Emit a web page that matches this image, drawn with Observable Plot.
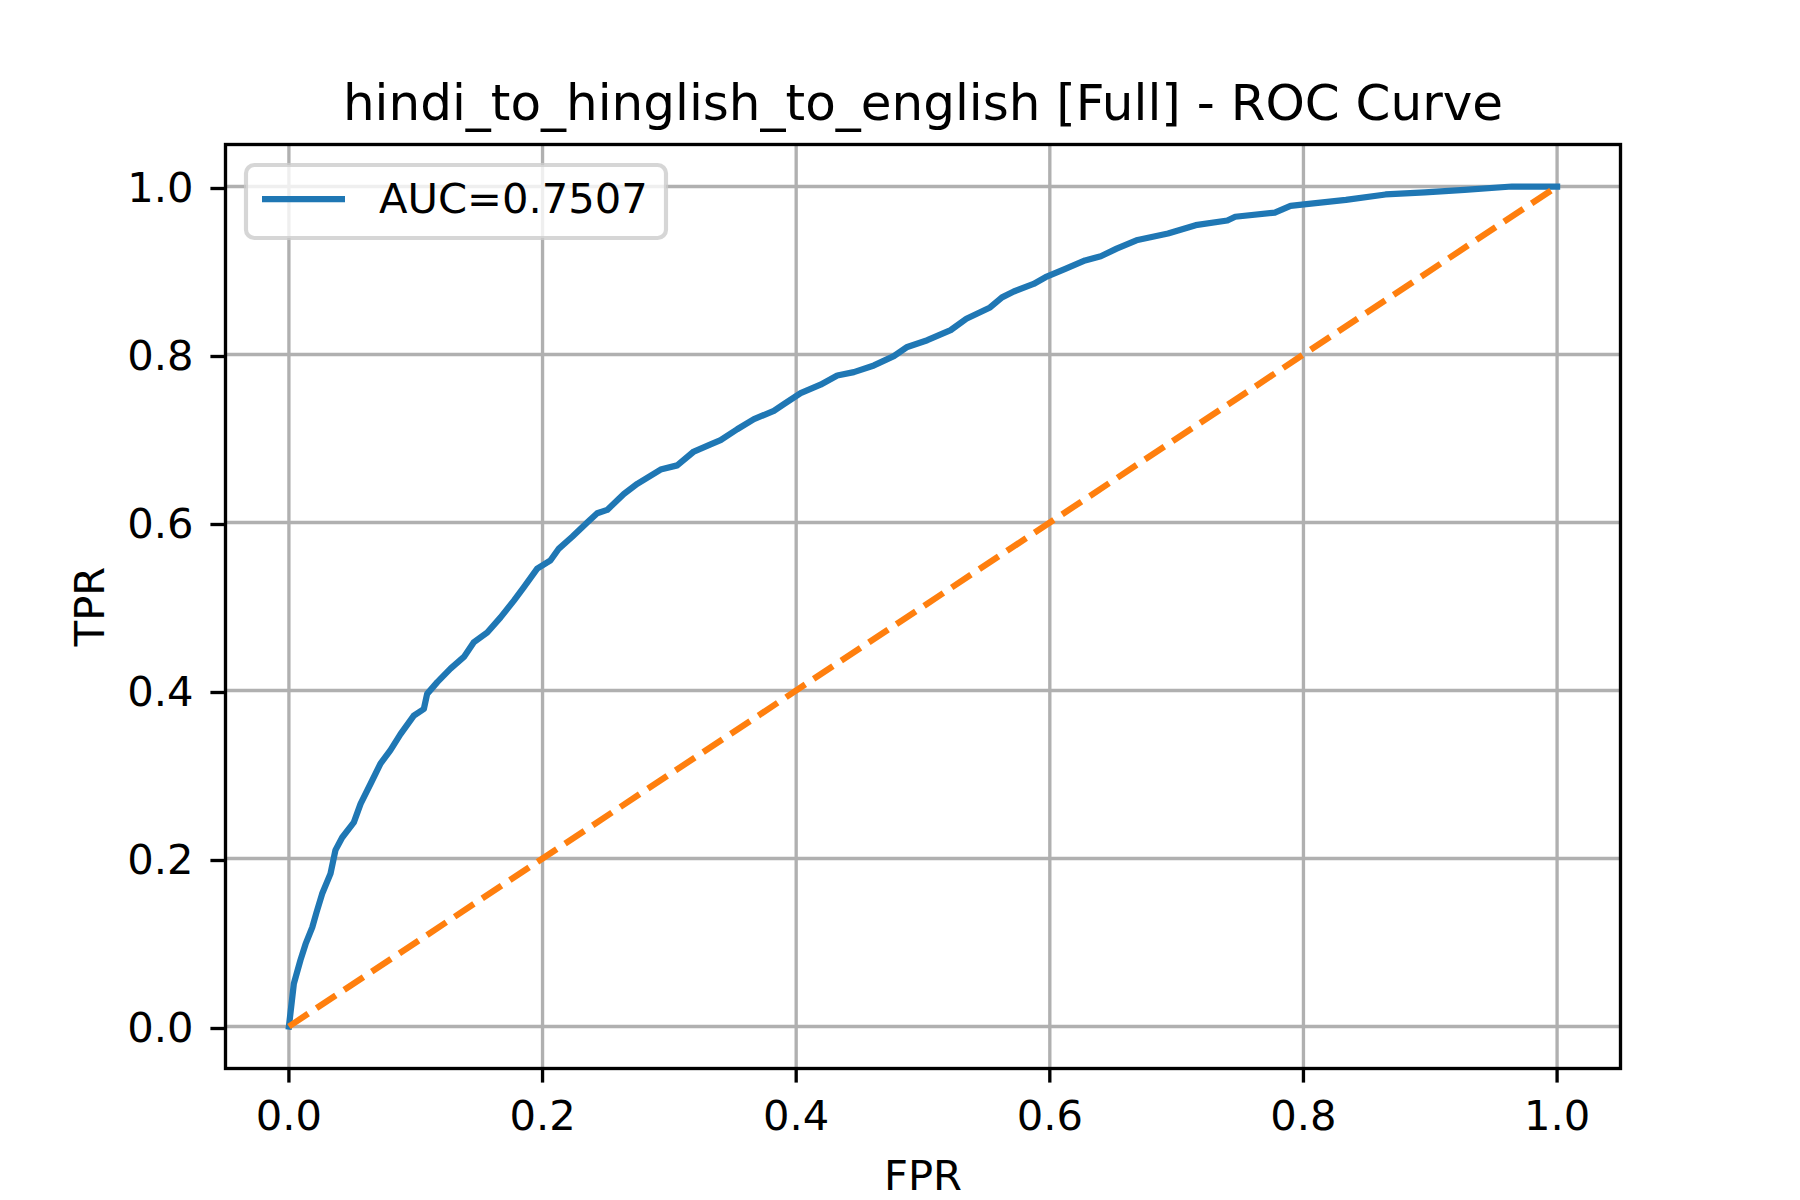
<!DOCTYPE html>
<html>
<head>
<meta charset="utf-8">
<script src="https://cdn.jsdelivr.net/npm/d3@7"></script>
<script src="https://cdn.jsdelivr.net/npm/@observablehq/plot@0.6"></script>
<style>
  html, body { margin: 0; padding: 0; background: #ffffff; }
  #chart svg { display: block; }
</style>
</head>
<body>
<div id="chart"></div>
<script>
// ---- data ----
const fpr = [0, 0.0039, 0.0091, 0.0131, 0.0184, 0.0218, 0.0262, 0.0328, 0.0367, 0.042, 0.0512, 0.0565, 0.0644, 0.0722, 0.0801, 0.088, 0.0985, 0.1064, 0.109, 0.117, 0.1274, 0.138, 0.1458, 0.1564, 0.1669, 0.1774, 0.1853, 0.1958, 0.2063, 0.2129, 0.2234, 0.2352, 0.2431, 0.251, 0.2641, 0.2747, 0.2931, 0.3062, 0.3193, 0.3325, 0.3404, 0.3535, 0.3667, 0.3824, 0.3903, 0.4035, 0.4192, 0.4324, 0.4455, 0.4613, 0.477, 0.4876, 0.5034, 0.5218, 0.5342, 0.5529, 0.5623, 0.5716, 0.5872, 0.5966, 0.6122, 0.6278, 0.6402, 0.6527, 0.6683, 0.6932, 0.715, 0.74, 0.7462, 0.7774, 0.7898, 0.8023, 0.8335, 0.8647, 0.8958, 0.927, 0.9644, 1.0];
const tpr = [0, 0.051, 0.079, 0.098, 0.118, 0.136, 0.158, 0.182, 0.210, 0.225, 0.243, 0.265, 0.289, 0.313, 0.329, 0.348, 0.370, 0.378, 0.396, 0.410, 0.426, 0.440, 0.4575, 0.469, 0.487, 0.507, 0.523, 0.545, 0.555, 0.569, 0.583, 0.600, 0.611, 0.615, 0.634, 0.646, 0.663, 0.668, 0.6845, 0.693, 0.698, 0.711, 0.723, 0.733, 0.741, 0.754, 0.764, 0.775, 0.779, 0.787, 0.798, 0.809, 0.817, 0.829, 0.8425, 0.856, 0.868, 0.875, 0.884, 0.892, 0.902, 0.912, 0.917, 0.926, 0.936, 0.944, 0.954, 0.9595, 0.964, 0.969, 0.977, 0.979, 0.984, 0.9905, 0.993, 0.996, 1.0, 1.0];
const chanceFpr = [0, 1];
const chanceTpr = [0, 1];
const xTicks = [0, 0.2, 0.4, 0.6, 0.8, 1.0];
const yTicks = [0, 0.2, 0.4, 0.6, 0.8, 1.0];
const xTickLabels = ["0.0", "0.2", "0.4", "0.6", "0.8", "1.0"];
const yTickLabels = ["0.0", "0.2", "0.4", "0.6", "0.8", "1.0"];
const titleText = "hindi_to_hinglish_to_english [Full] - ROC Curve";
const xLabel = "FPR";
const yLabel = "TPR";
const legendLabel = "AUC=0.7507";

// ---- build tables ----
const roc = fpr.map((f, i) => ({fpr: f, tpr: tpr[i]}));
const chance = chanceFpr.map((f, i) => ({fpr: f, tpr: chanceTpr[i]}));

const S = 300 / 72; // px per point at 300 dpi
const W = 1800, H = 1200;
const mL = 225, mR = 180, mT = 144, mB = 132;
const blue = "#1f77b4", orange = "#ff7f0e";
const font = "DejaVu Sans, Liberation Sans, sans-serif";

const chart = Plot.plot({
  width: W,
  height: H,
  marginLeft: mL,
  marginRight: mR,
  marginTop: mT,
  marginBottom: mB,
  style: {fontFamily: font, background: "#ffffff", color: "#000000", overflow: "visible"},
  x: {domain: [-0.05, 1.05]},
  y: {domain: [-0.05, 1.05]},
  marks: [
    Plot.gridX(xTicks, {stroke: "#b0b0b0", strokeOpacity: 1, strokeWidth: 0.8 * S}),
    Plot.gridY(yTicks, {stroke: "#b0b0b0", strokeOpacity: 1, strokeWidth: 0.8 * S}),
    Plot.line(roc, {x: "fpr", y: "tpr", stroke: blue, strokeWidth: 1.5 * S, strokeLinejoin: "round", strokeLinecap: "square"}),
    Plot.line(chance, {x: "fpr", y: "tpr", stroke: orange, strokeWidth: 1.5 * S,
      strokeDasharray: `${3.7 * 1.5 * S},${1.6 * 1.5 * S}`, strokeLinecap: "butt"}),
    Plot.frame({stroke: "#000000", strokeWidth: 0.8 * S}),
    Plot.axisX(xTicks, {
      tickSize: 3.5 * S, tickPadding: 17.5, fontSize: 10 * S, strokeWidth: 0.8 * S,
      tickFormat: d => xTickLabels[xTicks.indexOf(d)], label: null
    }),
    Plot.axisY(yTicks, {
      tickSize: 3.5 * S, tickPadding: 17.5, fontSize: 10 * S, strokeWidth: 0.8 * S,
      tickFormat: d => yTickLabels[yTicks.indexOf(d)], label: null, dy: 2
    }),
    Plot.text([titleText], {text: d => d, frameAnchor: "top", dy: -25, lineAnchor: "bottom", textAnchor: "middle", fontSize: 12 * S, fill: "#000000"}),
    Plot.text([xLabel], {text: d => d, frameAnchor: "bottom", dy: 121, lineAnchor: "bottom", textAnchor: "middle", fontSize: 10 * S, fill: "#000000"}),
    Plot.text([yLabel], {text: d => d, frameAnchor: "left", dx: -(mL - 103), rotate: -90, lineAnchor: "bottom", textAnchor: "middle", fontSize: 10 * S, fill: "#000000"})
  ]
});

document.getElementById("chart").appendChild(chart);

// ---- legend (matplotlib-style, upper left inside the axes) ----
const svg = d3.select(chart);
const lx = mL + 21, ly = mT + 21, lw = 420, lh = 73;
const g = svg.append("g").attr("class", "legend");
g.append("rect")
  .attr("x", lx).attr("y", ly).attr("width", lw).attr("height", lh)
  .attr("rx", 8.3).attr("ry", 8.3)
  .attr("fill", "#ffffff").attr("fill-opacity", 0.8)
  .attr("stroke", "#cccccc").attr("stroke-opacity", 0.8).attr("stroke-width", 1.0 * S);
g.append("line")
  .attr("x1", lx + 16).attr("x2", lx + 16 + 83)
  .attr("y1", ly + 34).attr("y2", ly + 34)
  .attr("stroke", blue).attr("stroke-width", 1.5 * S).attr("stroke-linecap", "butt");
g.append("text")
  .attr("x", lx + 133).attr("y", ly + 48)
  .attr("text-anchor", "start")
  .attr("font-family", font).attr("font-size", 10 * S).attr("fill", "#000000")
  .text(legendLabel);
</script>
</body>
</html>
